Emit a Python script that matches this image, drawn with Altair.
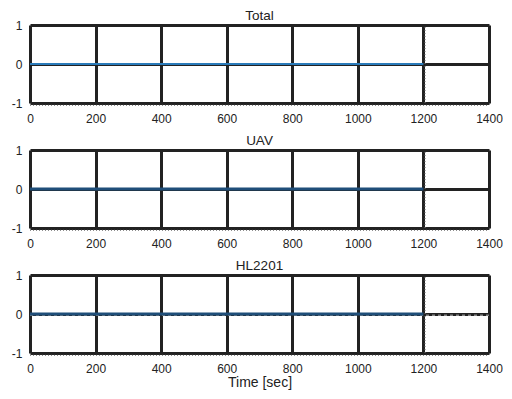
import altair as alt
import pandas as pd

titles = ["Total", "UAV", "HL2201"]
line_t = [[0, 1200], [0, 1200], [0, 1200]]
line_v = [[0, 0], [0, 0], [0, 0]]
line_colors = ["#2b7bba", "#1f4e79", "#1f4e79"]
line_widths = [2, 3, 3]
dash_t = [0, 1400]
dash_v = [-0.03, -0.03]
edge_t = [0, 1400]
edge_v = [-1.06, -1.06]
mark_t = [1205, 1205]
mark_v = [-1, 1]
x_ticks = [0, 200, 400, 600, 800, 1000, 1200, 1400]
y_ticks = [-1, 0, 1]

FONT = "Liberation Sans"
INK = "#222222"
W, H = 459, 78


def panel(i, last):
    df = pd.DataFrame({"t": line_t[i], "v": line_v[i]})
    xaxis = alt.Axis(
        values=x_ticks, grid=True, gridColor=INK, gridWidth=3, gridOpacity=1,
        domain=False, ticks=False, labelPadding=10, labelFontSize=12,
        labelColor=INK, labelFont=FONT, labelFlush=False,
        labelExpr="'' + datum.value",
        title="Time [sec]" if last else None,
        titleFont=FONT, titleFontSize=14, titleFontWeight="normal",
        titleColor=INK, titlePadding=1,
    )
    yaxis = alt.Axis(
        values=y_ticks, grid=True, gridColor=INK, gridWidth=3, gridOpacity=1,
        domain=False, ticks=False, labelPadding=8, labelFontSize=12,
        labelColor=INK, labelFont=FONT, title=None,
        labelExpr="'' + datum.value",
    )
    xs = alt.Scale(domain=[0, 1400], nice=False)
    ys = alt.Scale(domain=[-1, 1], nice=False)
    X = alt.X("t:Q", scale=xs, axis=xaxis)
    Y = alt.Y("v:Q", scale=ys, axis=yaxis)
    layers = []
    layers.append(
        alt.Chart(pd.DataFrame({"t": edge_t, "v": edge_v})).mark_line(
            color="#777777", strokeWidth=1, strokeDash=[1, 2]).encode(x=X, y=Y)
    )
    layers.append(
        alt.Chart(pd.DataFrame({"t": mark_t, "v": mark_v})).mark_line(
            color="#777777", strokeWidth=1, strokeDash=[1, 2]).encode(x=X, y=Y)
    )
    if i == 2:
        ddf = pd.DataFrame({"t": dash_t, "v": dash_v})
        layers.append(
            alt.Chart(ddf).mark_line(color="#888888", strokeWidth=1.5, strokeDash=[3, 3]).encode(x=X, y=Y)
        )
    layers.append(
        alt.Chart(df).mark_line(color=line_colors[i], strokeWidth=line_widths[i]).encode(x=X, y=Y)
    )
    layers.append(
        alt.Chart(pd.DataFrame({"label": [titles[i]]})).mark_text(
            font=FONT, fontSize=13.5, color=INK, align="center", baseline="alphabetic"
        ).encode(text="label:N", x=alt.value(W / 2), y=alt.value(-5))
    )
    return alt.layer(*layers).properties(width=W, height=H)


chart = alt.vconcat(*[panel(i, i == 2) for i in range(3)], spacing=8).properties(
    padding={"top": 0, "left": 2, "right": 0, "bottom": 0}
).configure_view(stroke=INK, strokeWidth=3).configure(background="white")

chart.save("out.html", embed_options={"renderer": "svg", "actions": False})
